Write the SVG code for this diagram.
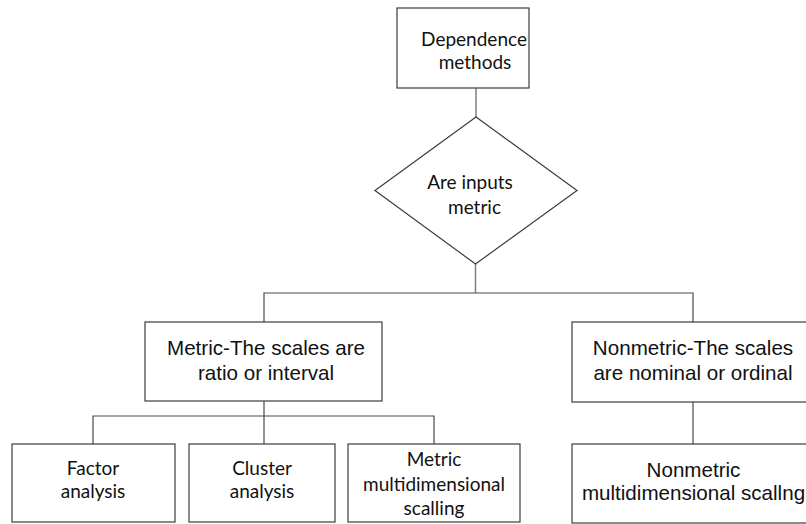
<svg xmlns="http://www.w3.org/2000/svg" width="806" height="524" viewBox="0 0 806 524">
  <style>
    .box { fill: #ffffff; stroke: #3c3c3c; stroke-width: 1.2; }
    .wire { fill: none; stroke: #4a4a4a; stroke-width: 1.2; }
    .stem { fill: none; stroke: #7f7f7f; stroke-width: 1.5; }
    .cal { font-family: Lato, "Open Sans", sans-serif; font-size: 19px; fill: #111; text-anchor: middle; }
    .ari { font-family: "Liberation Sans", Arial, sans-serif; font-size: 20.6px; fill: #111; text-anchor: middle; }
  </style>
  <rect width="806" height="524" fill="#ffffff"/>

  <!-- connectors -->
  <g id="connectors">
    <line class="stem" x1="476" y1="88" x2="476" y2="117"/>
    <line class="stem" x1="475.5" y1="264" x2="475.5" y2="293"/>
    <path class="wire" d="M264 322 V293 H693 V322"/>
    <path class="wire" d="M264 401 V416"/>
    <path class="wire" d="M93 444 V416 H434 V444"/>
    <path class="wire" d="M264 416 V444"/>
    <path class="wire" d="M693 402 V444"/>
  </g>

  <!-- top box -->
  <g id="dependence">
    <rect class="box" x="397" y="8" width="132" height="80"/>
    <text class="cal" x="474" y="46">Dependence</text>
    <text class="cal" x="475" y="69">methods</text>
  </g>

  <!-- decision -->
  <g id="inputs-metric">
    <polygon class="box" points="476,117 577,190.5 475.5,264 375,190.5"/>
    <text class="cal" x="470" y="189">Are inputs</text>
    <text class="cal" x="474.5" y="214">metric</text>
  </g>

  <!-- scale types -->
  <g id="metric">
    <rect class="box" x="145" y="322" width="237" height="79"/>
    <text class="ari" x="266" y="355">Metric-The scales are</text>
    <text class="ari" x="266" y="380">ratio or interval</text>
  </g>
  <g id="nonmetric">
    <rect class="box" x="572" y="322" width="242" height="80"/>
    <text class="ari" x="693" y="355">Nonmetric-The scales</text>
    <text class="ari" x="693" y="380">are nominal or ordinal</text>
  </g>

  <!-- techniques -->
  <g id="factor">
    <rect class="box" x="12" y="444" width="163" height="78"/>
    <text class="cal" x="93" y="475">Factor</text>
    <text class="cal" x="93" y="498">analysis</text>
  </g>
  <g id="cluster">
    <rect class="box" x="189" y="444" width="146" height="78"/>
    <text class="cal" x="262" y="475">Cluster</text>
    <text class="cal" x="262" y="498">analysis</text>
  </g>
  <g id="metric-mds">
    <rect class="box" x="348" y="444" width="172" height="78"/>
    <text class="cal" x="434" y="466">Metric</text>
    <text class="cal" x="434" y="491">multidimensional</text>
    <text class="cal" x="434" y="515">scalling</text>
  </g>
  <g id="nonmetric-mds">
    <rect class="box" x="572" y="444" width="242" height="79"/>
    <text class="ari" x="693.5" y="477">Nonmetric</text>
    <text class="ari" x="693.5" y="500">multidimensional scallng</text>
  </g>
</svg>
